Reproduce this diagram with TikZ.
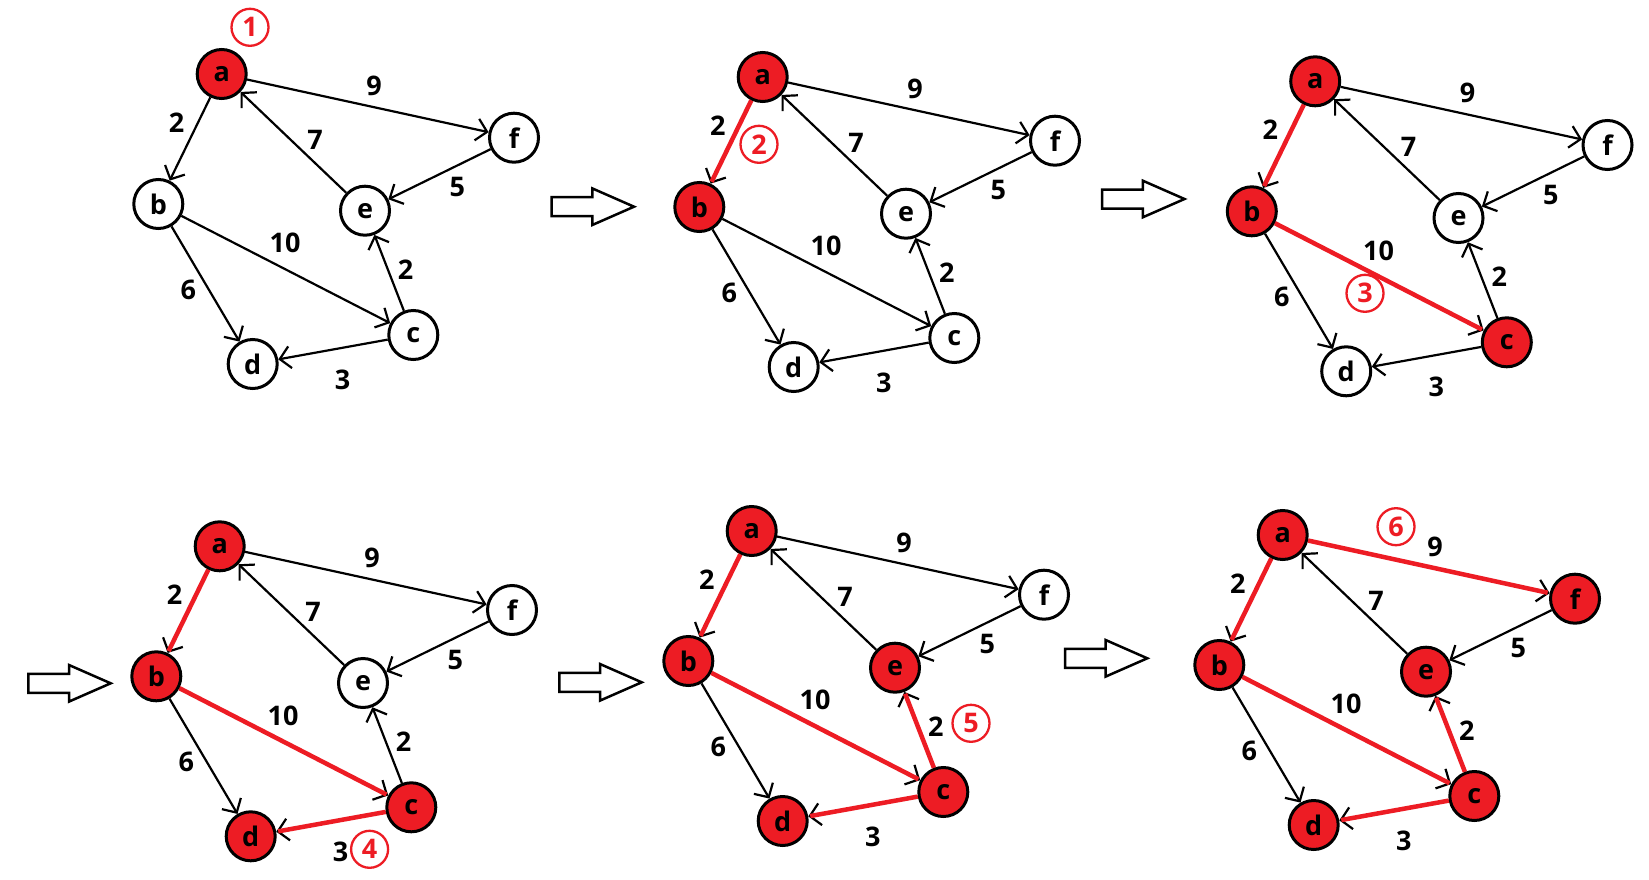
\documentclass[tikz,border=0pt]{standalone}
\usepackage{fontspec}
\setmainfont{Open Sans}
\usetikzlibrary{arrows.meta}
\definecolor{pred}{RGB}{237,28,36}
\tikzset{
  vtx/.style={circle, draw=black, line width=3pt, minimum size=49pt, inner sep=0pt, font=\fontsize{27}{27}\selectfont\bfseries},
  vfill/.code 2 args={\ifnum#1>#2\relax\pgfkeysalso{fill=white}\else\pgfkeysalso{fill=pred}\fi},
  gedge/.style={line width=2.2pt, -{Straight Barb[length=10.5pt,width=22pt]}},
  redge/.style={line width=4.5pt, draw=pred, shorten >=2pt},
  wt/.style={font=\fontsize{27}{27}\selectfont\bfseries, inner sep=0pt},
  stepmark/.style={circle, draw=pred, line width=2.3pt, minimum size=37pt, inner sep=0pt, text=pred, font=\fontsize{27}{27}\selectfont\bfseries},
  bigarrow/.style={draw=black, line width=2.5pt, fill=white, line join=miter},
}
\newcommand\graphpanel[4]{%
\begin{scope}[shift={(#2,#3)}]
  \node[vtx,vfill={1}{#4}] (#1a) at (221.7,74) {a};
  \node[vtx,vfill={2}{#4}] (#1b) at (158.3,204) {b};
  \node[vtx,vfill={3}{#4}] (#1c) at (413.3,335) {c};
  \node[vtx,vfill={4}{#4}] (#1d) at (252.7,364) {d};
  \node[vtx,vfill={5}{#4}] (#1e) at (365,210.7) {e};
  \node[vtx,vfill={6}{#4}] (#1f) at (514,137.7) {f};
  \draw[gedge] (#1a) -- (#1b);
  \draw[gedge] (#1a) -- (#1f);
  \draw[gedge] (#1e) -- (#1a);
  \draw[gedge] (#1f) -- (#1e);
  \draw[gedge] (#1b) -- (#1c);
  \draw[gedge] (#1b) -- (#1d);
  \draw[gedge] (#1c) -- (#1e);
  \draw[gedge] (#1c) -- (#1d);
  \ifnum#4>1 \draw[redge] (#1a) -- (#1b);\fi
  \ifnum#4>2 \draw[redge] (#1b) -- (#1c);\fi
  \ifnum#4>3 \draw[redge] (#1c) -- (#1d);\fi
  \ifnum#4>4 \draw[redge] (#1c) -- (#1e);\fi
  \ifnum#4>5 \draw[redge] (#1a) -- (#1f);\fi
  \node[wt] (#1waf) at (374,86) {9};
  \node[wt] (#1wab) at (176.7,122.7) {2};
  \node[wt] (#1wea) at (315,140) {7};
  \node[wt] (#1wfe) at (457.3,187.3) {5};
  \node[wt] (#1wbc) at (285,243.3) {10};
  \node[wt] (#1wce) at (405.7,269.3) {2};
  \node[wt] (#1wbd) at (188.3,290) {6};
  \node[wt] (#1wcd) at (342.7,380) {3};
\end{scope}}
\newcommand\hollowarrow[2]{%
  \draw[bigarrow] (#1-82.3,#2-9.5) -- (#1-41.7,#2-9.5) -- (#1-41.7,#2-18.3) -- (#1,#2)
    -- (#1-41.7,#2+18.3) -- (#1-41.7,#2+9.5) -- (#1-82.3,#2+9.5) -- cycle;}
\begin{document}
\begin{tikzpicture}[x=1pt,y=-1pt]
  \fill[white] (0,0) rectangle (1649,880);
  \useasboundingbox (0,0) rectangle (1649,880);
  \graphpanel{p1}{0}{0}{1}
  \graphpanel{p2}{541}{3}{2}
  \graphpanel{p3}{1093.5}{7.3}{3}
  \graphpanel{p4}{-2}{472.3}{4}
  \graphpanel{p5}{530}{457}{5}
  \graphpanel{p6}{1061}{461}{6}
  \node[stepmark] (s1) at (250,27.3) {1};
  \node[stepmark] (s2) at (759,144.3) {2};
  \node[stepmark] (s3) at (1365,293.3) {3};
  \node[stepmark] (s4) at (369.6,849.3) {4};
  \node[stepmark] (s5) at (971,723.3) {5};
  \node[stepmark] (s6) at (1396,526.7) {6};
  \hollowarrow{634}{206.7}
  \hollowarrow{1184.5}{199}
  \hollowarrow{110.7}{683.3}
  \hollowarrow{641.7}{682.3}
  \hollowarrow{1147.3}{658.3}
\end{tikzpicture}
\end{document}
